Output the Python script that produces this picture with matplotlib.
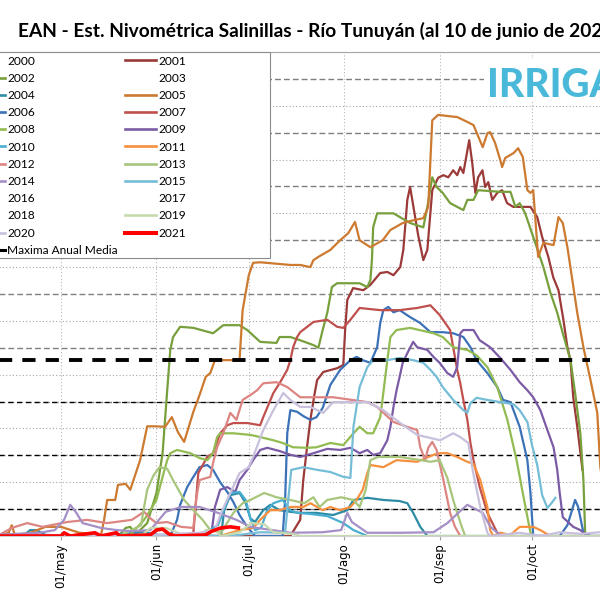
import matplotlib
matplotlib.use("Agg")
import matplotlib.pyplot as plt
from matplotlib.lines import Line2D
from matplotlib.patches import Rectangle
import numpy as np

TITLE = "EAN - Est. Nivométrica Salinillas - Río Tunuyán (al 10 de junio de 2021)"
LOGO = "IRRIGACIÓN"
month_ticks = [121, 152, 182, 213, 244, 274]
month_labels = ["01/may", "01/jun", "01/jul", "01/ago", "01/sep", "01/oct"]
mean_max = 327
mean_span = [91, 293]

# (day of year, snow water equivalent)
s2001 = [(91,0),(195.5,0),(198.7,30),(199.7,104),(201,169),(202,216),(203.3,262),(204.2,290),(206.2,305),(210.7,312),
         (212.7,318),(213.3,383),(214,439),(215.9,461),(219.2,457),(221.5,467),(224.7,489),(227,491),(229,485),(231.2,500),
         (232.2,532),(233.5,625),(234.4,649),(235.4,615),(237,560),(238.7,513),(240,532),(241.6,643),(243.5,666),(245.2,671),
         (246.8,667),(248.4,680),(249.7,671),(250.7,686),(251.7,675),(253.6,736),(254.6,693),(255.6,638),(256.5,667),(257.9,680),
         (258.8,649),(259.8,658),(261.1,625),(262.7,638),(264.3,643),(265.9,619),(267.9,612),(270.2,612),(273.5,612),(275.7,593),
         (277.3,556),(279.3,519),(280.9,481),(282.6,457),(284.2,402),(285.5,351),(286.5,327),(287.4,258),(288.7,203),(290.4,123)]
s2002 = [(91,0),(140,2),(142,15),(143.5,17),(145,4),(146.7,11),(149,24),(152,80),(154,154),(155.5,271),(156.5,346),(157.4,370),
         (159.7,389),(164,387),(170.4,377),(173.7,392),(179,392),(181.5,383),(185.7,361),(191,359),(192,370),(195.5,370),
         (198.7,364),(203,355),(204.6,350),(206,383),(207.5,415),(209,463),(210.7,470),(218,470),(220.5,463),(221.5,476),
         (222,513),(222.4,574),(223.7,600),(229,600),(234.4,582),(238.7,574),(240,612),(241.6,667),(243,649),(245,638),
         (247.4,619),(251.7,606),(253,625),(255,625),(256.5,643),(263.7,640),(267,640),(268.6,612),(270,619),(271.8,600),
         (274.4,556),(277.7,500),(280,452),(282.2,415),(284,377),(286.5,327),(288,266),(289.7,191),(290.7,104),(291.3,0)]
s2004 = [(91,0),(109,2),(111,11),(113,11),(116,2),(134,0),(145,6),(148,7),(153,2),(173,0),(174,48),(176,76),(179,80),
         (181,61),(182.5,33),(184,26),(186.7,48),(189,58),(192,48),(195.5,45),(198.7,43),(204,43),(209.4,39),(214,48),
         (216,67),(220.5,71),(225.7,67),(231,65),(233.5,61),(235.4,43),(237.7,17),(240,0),(300,0)]
s2005 = [(91,0),(101,0),(104,6),(105,20),(106,2),(111,6),(116,17),(121,17),(127,6),(134,2),(135,30),(136,67),(138.6,67),
         (139.5,95),(142,97),(143.5,86),(146.7,141),(149,204),(151.5,204),(154.8,203),(157,221),(159,193),(161,175),(164,231),
         (166,262),(168,296),(169.5,303),(171,327),(177,327),(179,327),(180,420),(182,485),(183.4,508),(185.7,509),(195.5,504),
         (198.7,504),(202,500),(203,513),(204.6,519),(208.5,532),(211.7,550),(214.3,563),(216.5,584),(218,550),(221.5,537),
         (225.5,550),(228,569),(232,582),(235.4,587),(238.7,591),(240.3,612),(241,699),(241.6,773),(243.5,783),(249.7,779),
         (253,770),(255,764),(258,723),(259.5,749),(260.4,751),(262,731),(263.7,699),(264.3,686),(265.3,703),(268,712),
         (269.5,721),(271,705),(272.5,643),(273.5,638),(274.4,643),(276,519),(277.7,545),(281,541),(282.6,593),(284,582),
         (285.5,537),(288.7,415),(290.7,351),(293,290),(295.2,229),(296.2,128),(298,60),(300,0)]
s2006 = [(91,0),(156.5,0),(158.7,30),(159.7,58),(162,91),(164,110),(166,128),(168.5,132),(170.4,123),(172.7,100),(175,82),
         (177,63),(179,39),(181.5,17),(184,0),(193,0),(193.8,67),(194.5,191),(195.5,234),(197.7,231),(199.7,223),(202,216),
         (204,221),(206,238),(208.5,281),(211.7,309),(215,327),(217,333),(219,327),(221.5,322),(223.7,351),(224.7,396),
         (225.7,420),(227.3,426),(229,416),(231,420),(234.4,407),(237.7,396),(241,379),(245,379),(248.4,377),(251.7,370),
         (254,351),(256,327),(259.5,303),(262.7,277),(264.6,253),(267,249),(270,203),(272.5,141),(273.5,80),(274.4,0),
         (283,0),(285.5,20),(287,48),(288,67),(289,54),(290.7,6),(293,0)]
s2007 = [(91,0),(159.7,0),(164,6),(165.6,117),(168.5,147),(170.4,154),(172.7,191),(175,206),(177,210),(181.5,210),
         (185.7,206),(186.7,221),(190,266),(192,284),(194.5,309),(195.5,327),(196.4,351),(197.7,370),(198.7,379),(203,398),
         (207.5,402),(210.7,389),(212.7,387),(215,402),(218,424),(224.7,420),(231,420),(236.7,424),(241,429),(244,411),
         (247.4,383),(248.4,351),(249.7,309),(250.7,284),(251.7,253),(253,216),(254,173),(255,141),(257,91),(259.5,43),
         (262.7,6),(267,0)]
s2008 = [(91,0),(143.5,2),(148,30),(150,48),(152,67),(154,110),(155.5,141),(156.5,154),(158.7,160),(163,154),(166,145),
         (168.5,141),(170.4,154),(171.7,184),(172.7,191),(177,191),(182.5,188),(185.7,184),(190,178),(193,173),(196.4,165),
         (201,164),(204,165),(208.5,173),(212.7,169),(216,191),(218,203),(220.5,191),(222.4,191),(224.7,221),(225.7,266),
         (227,327),(228,370),(230,383),(234.4,387),(242,377),(245,370),(248.4,351),(253,346),(256,336),(259.5,314),
         (262.7,277),(266,216),(269,141),(271,80),(273.5,6),(274.4,0)]
s2009 = [(91,0),(166,0),(170,11),(171,54),(172.7,86),(175,91),(177.6,82),(179,104),(181.5,123),(183.4,141),(185.7,160),
         (188,164),(192,158),(195.5,151),(198.7,147),(203,154),(207.5,162),(211.7,160),(215,164),(218,154),(220.5,160),
         (222.4,151),(224.7,154),(227,178),(228,203),(229,240),(230,271),(231,296),(232,322),(233.5,340),(235.4,361),
         (236.7,351),(240,346),(242,333),(244,322),(246.5,303),(248.4,296),(249.7,314),(250.7,377),(251.7,383),(255,383),
         (257,364),(260.4,351),(263.7,331),(267,309),(270,286),(272.5,271),(274.4,258),(276.7,234),(279,197),(281,165),
         (282.2,123),(283,80),(284,35),(287.4,17),(289.7,11),(292,0),(300,0)]
s2010 = [(91,0),(166,0),(172,20),(176,80),(179,82),(181,67),(182.5,33),(184,11),(186,15),(188,48),(190,61),(193,67),
         (195.5,48),(197.7,43),(202,41),(207.5,37),(212.7,24),(216,11),(220.5,0)]
s2011 = [(91,0),(172.7,0),(179,11),(183.4,15),(185.7,30),(189,48),(192,48),(195.5,54),(199.7,54),(202,61),(206,48),
         (208.5,54),(211.7,48),(215,54),(217,67),(219,86),(220.5,117),(221.5,132),(225.7,128),(230,141),(236.7,138),
         (242,151),(244.2,154),(246.5,154),(249.7,147),(253,138),(255,134),(257.2,104),(259.5,54),(260.4,11),(261.4,0),
         (263.7,6),(267,2),(270,17),(274.4,17),(276.7,11),(280,0)]
s2012 = [(91,0),(101,2),(105,15),(110,24),(115,17),(123,26),(129.5,30),(136,24),(144,30),(148,45),(150,33),(152,24),
         (155.5,26),(160,17),(164,15),(165,72),(166,104),(169.5,110),(170.4,136),(171.7,165),(173.7,191),(176,229),(178,216),
         (180,253),(182.5,262),(184.7,271),(186.7,284),(191,286),(194.5,277),(198.7,258),(209.4,258),(220.5,249),(223.7,240),
         (229,212),(233.5,203),(236.7,197),(237.7,165),(239.3,141),(240.3,164),(241.6,175),(243,160),(245,110),(247.4,43),
         (249,17),(250.7,0)]
s2013 = [(91,0),(140,0),(147,20),(148,54),(149,86),(151,112),(153,128),(155.5,125),(157.4,104),(161,67),(164,48),(167,30),
         (169.5,11),(173,6),(177,43),(180,61),(182.5,67),(187,80),(191,72),(195.5,67),(200,61),(203,72),(205,54),(207.5,67),
         (212,72),(216,67),(218,54),(220,86),(221.5,141),(224,147),(231,147),(238,141),(241,138),(244,141),(246.5,108),
         (248.4,67),(251,20),(252.3,0)]
s2014 = [(91,0),(114,6),(119,11),(122,30),(124,58),(126,43),(128,24),(134,15),(139,11),(144,9),(150,11),(155,45),(160,54),
         (166,54),(172,43),(178,30),(182.5,17),(195.5,6),(206,7),(212,11),(214,43),(215.5,26),(220.5,6),(231,6),(242,7),
         (246.5,24),(251,48),(253,58),(255,52),(258,43),(260.5,17),(264,0),(300,0)]
s2015 = [(91,0),(176,0),(185.7,7),(193.8,6),(194.8,67),(195.8,123),(199.7,128),(204.2,123),(208.5,119),(212.7,110),
         (215,108),(216,203),(218,277),(220.5,314),(222.4,327),(227,327),(231,331),(235.4,327),(238.7,322),(241,309),
         (243,296),(245,277),(248.4,253),(251.7,234),(253,229),(254,247),(256,257),(259.5,253),(263.7,249),(268,245),
         (270,234),(272.5,212),(274,169),(275.7,132),(277.3,76),(279,52),(280.6,63),(281.6,71)]
s2019 = [(91,0),(147,0),(150,15),(155,15),(160,4),(166,0),(168,11),(171,11),(173,0),(179,7),(183,24),(187,22),(190,7),
         (196,4),(199,0),(325,0)]
s2020 = [(91,0),(150,2),(166,6),(171,11),(173,43),(176,80),(179,117),(182,128),(183.4,147),(186.7,197),(190,234),
         (193.2,266),(195.5,253),(198.7,240),(202,240),(206.2,229),(209.4,249),(215,249),(220.5,249),(225.7,234),
         (231.2,210),(236.7,188),(244.2,178),(248.4,191),(250.7,184),(253.3,173),(254.9,117),(257.2,54),(259.5,6),
         (260.4,0),(270,6),(277,0),(283,7),(290,4),(296,7)]
s2021 = [(91,0),(121,0),(122,6),(124,0),(132,6),(134,0),(139,6),(140,0),(150,2),(152,11),(154,13),(156,4),(158,0),
         (168,2),(170,9),(173,15),(176,17),(178.6,15)]

series = {2001: s2001, 2002: s2002, 2004: s2004, 2005: s2005, 2006: s2006, 2007: s2007, 2008: s2008,
          2009: s2009, 2010: s2010, 2011: s2011, 2012: s2012, 2013: s2013, 2014: s2014, 2015: s2015,
          2019: s2019, 2020: s2020, 2021: s2021}
colors = {2001: '#9b3a38', 2002: '#77a03c', 2004: '#2e8ba6', 2005: '#cc7a30', 2006: '#3b72b8', 2007: '#c0504d',
          2008: '#92bb52', 2009: '#7b5ba6', 2010: '#4aaed0', 2011: '#f5903e', 2012: '#dc8582', 2013: '#a8c57c',
          2014: '#a48fc6', 2015: '#75bdd7', 2019: '#c6d9ae', 2020: '#c8c0dc', 2021: '#ff0000'}
years = list(range(2000, 2022))

fig = plt.figure(figsize=(6, 6), dpi=100)
px = 1 / 600
ax = fig.add_axes([-31.35 * px, 64 * px, 720.35 * px, 484 * px])
ax.set_xlim(91, 325)
ax.set_ylim(0, 900)

# grid
ax.set_yticks(np.arange(50, 900, 100))
ax.set_yticks(np.arange(100, 901, 100), minor=True)
ax.yaxis.grid(True, which='major', color='#7f7f7f', linestyle=(0, (4.2, 2.2)), lw=1.0, zorder=0)
ax.yaxis.grid(True, which='minor', color='#a6a6a6', linestyle=(0, (1, 2)), lw=0.8, zorder=0)
ax.set_xticks(month_ticks)
ax.set_xticklabels(month_labels)
ax.xaxis.grid(True, which='major', color='#b8b8b8', linestyle=(0, (1, 2)), lw=0.8, zorder=0)
for yv in (50, 150, 250):
    ax.axhline(yv, color='black', linestyle=(0, (4, 3)), lw=0.9, zorder=1)
ax.set_axisbelow(True)

ax.tick_params(axis='y', which='both', left=False, right=False, labelleft=False)
ax.tick_params(axis='x', which='major', direction='out', length=3, color='#a0a0a0', labelsize=8.5,
               labelrotation=90, pad=2)
for s in ('left', 'right'):
    ax.spines[s].set_visible(False)
ax.spines['top'].set_color('#a6a6a6')
ax.spines['bottom'].set_color('#d0d0d0')

legend_handles = {}
for yr in years:
    if yr in series:
        d = [p[0] for p in series[yr]]
        v = [p[1] for p in series[yr]]
        lw = 2.6 if yr == 2021 else 1.6
        z = 4 if yr == 2021 else 2
        ax.plot(d, v, color=colors[yr], lw=lw, zorder=z, solid_joinstyle='round')
        legend_handles[yr] = Line2D([], [], color=colors[yr], lw=2.9 if yr == 2021 else 1.9)
    else:
        legend_handles[yr] = Line2D([], [], color='none', lw=1.9)

ax.plot(mean_span, [mean_max, mean_max], color='black', lw=2.8, linestyle=(0, (3.4, 2.6)), zorder=5)
mean_handle = Line2D([], [], color='black', lw=2.2)

col1 = [yr for yr in years if yr % 2 == 0]
col2 = [yr for yr in years if yr % 2 == 1]
handles = [legend_handles[y] for y in col1] + [mean_handle] + [legend_handles[y] for y in col2]
labels = [str(y) for y in col1] + ["Maxima Anual Media"] + [str(y) for y in col2]

frame = Rectangle((-5 * px, 1 - 258 * px), 275 * px, 206 * px, transform=fig.transFigure,
                  facecolor='white', edgecolor='#8c8c8c', lw=0.8, zorder=3)
fig.add_artist(frame)
leg = fig.legend(handles, labels, loc='upper left', bbox_to_anchor=(-29.6 * px, 1 - 52 * px), ncol=2,
                 frameon=False, prop={'family': 'Lato', 'size': 8.6}, handlelength=2.6, handletextpad=0.17,
                 columnspacing=0.6, labelspacing=0.52, borderpad=0.3, borderaxespad=0)
leg.set_zorder(6)

fig.text(18 * px, 1 - 37 * px, TITLE, fontsize=13.8, fontweight='bold', family='Lato', va='baseline', ha='left')

logo_bg = Rectangle((484 * px, 1 - 101 * px), 140 * px, 42 * px, transform=fig.transFigure,
                    facecolor='white', edgecolor='none', zorder=6)
fig.add_artist(logo_bg)
fig.text(487 * px, 1 - 97 * px, LOGO, fontsize=28, fontweight='black', family='Lato', color='#4ab9d9',
         va='baseline', ha='left', zorder=7)

fig.savefig("out.png", dpi=100)
